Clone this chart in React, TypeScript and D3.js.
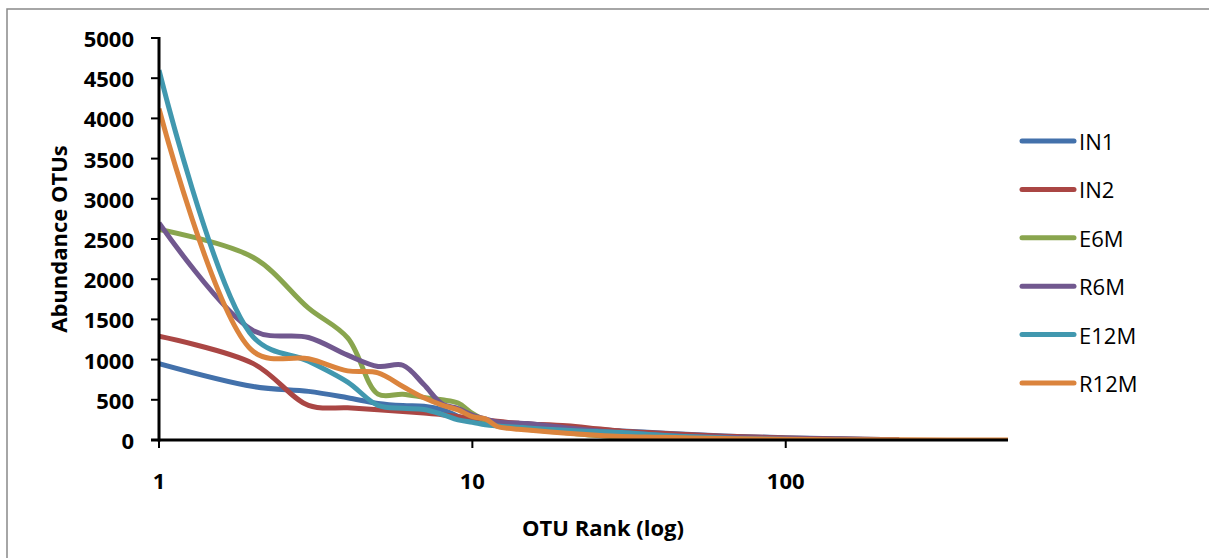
import React from 'react';
import * as d3 from 'd3';

const ranks = [1, 2, 3, 4, 5, 6, 7, 8, 9, 10, 11, 12, 13, 14, 15, 20, 25, 30, 40, 50, 70, 100, 150, 230, 512];

const seriesNames = ['IN1', 'IN2', 'E6M', 'R6M', 'E12M', 'R12M'];
const seriesColors = ['#4371AB', '#AA4644', '#89A54E', '#71588F', '#4198AF', '#DB843D'];

const in1 = [950, 665, 605, 525, 455, 428, 420, 378, 295, 240, 215, 205, 200, 195, 190, 160, 130, 112, 88, 68, 45, 28, 14, 3];
const in2 = [1290, 950, 430, 400, 375, 355, 335, 315, 290, 270, 250, 232, 218, 208, 200, 178, 140, 110, 85, 64, 42, 26, 12, 3];
const e6m = [2620, 2270, 1640, 1270, 570, 570, 530, 500, 460, 330, 240, 190, 168, 150, 135, 90, 56, 36, 20, 12, 6, 3, 1];
const r6m = [2700, 1360, 1275, 1055, 915, 930, 690, 450, 390, 310, 262, 225, 212, 210, 205, 150, 115, 90, 60, 45, 30, 18, 8, 2];
const e12m = [4600, 1280, 980, 720, 430, 395, 380, 320, 250, 220, 190, 175, 165, 160, 150, 120, 105, 92, 60, 40, 20, 6];
const r12m = [4120, 1100, 1010, 860, 835, 665, 525, 435, 375, 290, 262, 168, 145, 135, 125, 85, 60, 45, 35, 25, 15, 8, 4, 2, 0.5];

const seriesValues = [in1, in2, e6m, r6m, e12m, r12m];

const yTicks = [0, 500, 1000, 1500, 2000, 2500, 3000, 3500, 4000, 4500, 5000];
const xTicks = [1, 10, 100];

const W = 1209;
const H = 558;
const left = 159;
const right = 1008;
const top = 38;
const bottom = 440;
const font = "'Open Sans', 'Noto Sans', sans-serif";

export default function App() {
  const x = d3.scaleLog().domain([1, 512]).range([left, right]);
  const y = d3.scaleLinear().domain([0, 5000]).range([bottom, top]);

  const line = d3
    .line<[number, number]>()
    .x((d) => x(d[0]))
    .y((d) => y(d[1]))
    .curve(d3.curveCatmullRom.alpha(0.5));

  return (
    <svg
      width={W}
      height={H}
      style={{ position: 'absolute', left: 0, top: 0, background: '#fff' }}
    >
      <defs>
        <clipPath id="plot">
          <rect x={left} y={top - 10} width={right - left + 5} height={bottom - top + 10} />
        </clipPath>
      </defs>
      <rect x={7} y={9} width={1400} height={700} fill="#fff" stroke="#898989" strokeWidth={1.5} />

      {/* series */}
      <g clipPath="url(#plot)">
        {seriesValues.map((vals, i) => (
          <path
            key={seriesNames[i]}
            d={line(vals.map((v, j) => [ranks[j], v] as [number, number])) || ''}
            fill="none"
            stroke={seriesColors[i]}
            strokeWidth={5}
            strokeLinejoin="round"
          />
        ))}
      </g>

      {/* y axis */}
      <line x1={left} x2={left} y1={top - 1} y2={bottom + 1.5} stroke="#000" strokeWidth={3} />
      {yTicks.map((t) => (
        <g key={t}>
          <line x1={left - 8} x2={left} y1={y(t)} y2={y(t)} stroke="#000" strokeWidth={2} />
          <text
            x={134}
            y={y(t)}
            textAnchor="end"
            dominantBaseline="central"
            fontFamily={font}
            fontWeight="bold"
            fontSize={22}
          >
            {t}
          </text>
        </g>
      ))}

      {/* x axis */}
      <line x1={left - 8} x2={right} y1={bottom} y2={bottom} stroke="#000" strokeWidth={3} />
      {xTicks.map((t) => (
        <g key={t}>
          <line x1={x(t)} x2={x(t)} y1={bottom} y2={bottom + 8} stroke="#000" strokeWidth={2} />
          <text
            x={x(t)}
            y={480}
            textAnchor="middle"
            dominantBaseline="central"
            fontFamily={font}
            fontWeight="bold"
            fontSize={22}
          >
            {t}
          </text>
        </g>
      ))}

      {/* axis titles */}
      <text
        x={603}
        y={527}
        textAnchor="middle"
        dominantBaseline="central"
        fontFamily={font}
        fontWeight="bold"
        fontSize={22}
      >
        OTU Rank (log)
      </text>
      <text
        transform="translate(58,239) rotate(-90)"
        textAnchor="middle"
        dominantBaseline="central"
        fontFamily={font}
        fontWeight="bold"
        fontSize={22}
      >
        Abundance OTUs
      </text>

      {/* legend */}
      {seriesNames.map((name, i) => {
        const ly = 141 + i * 48.4;
        return (
          <g key={name}>
            <line
              x1={1022}
              x2={1074}
              y1={ly}
              y2={ly}
              stroke={seriesColors[i]}
              strokeWidth={5}
              strokeLinecap="round"
            />
            <text x={1079} y={ly} dominantBaseline="central" fontFamily={font} fontSize={22}>
              {name}
            </text>
          </g>
        );
      })}
    </svg>
  );
}
